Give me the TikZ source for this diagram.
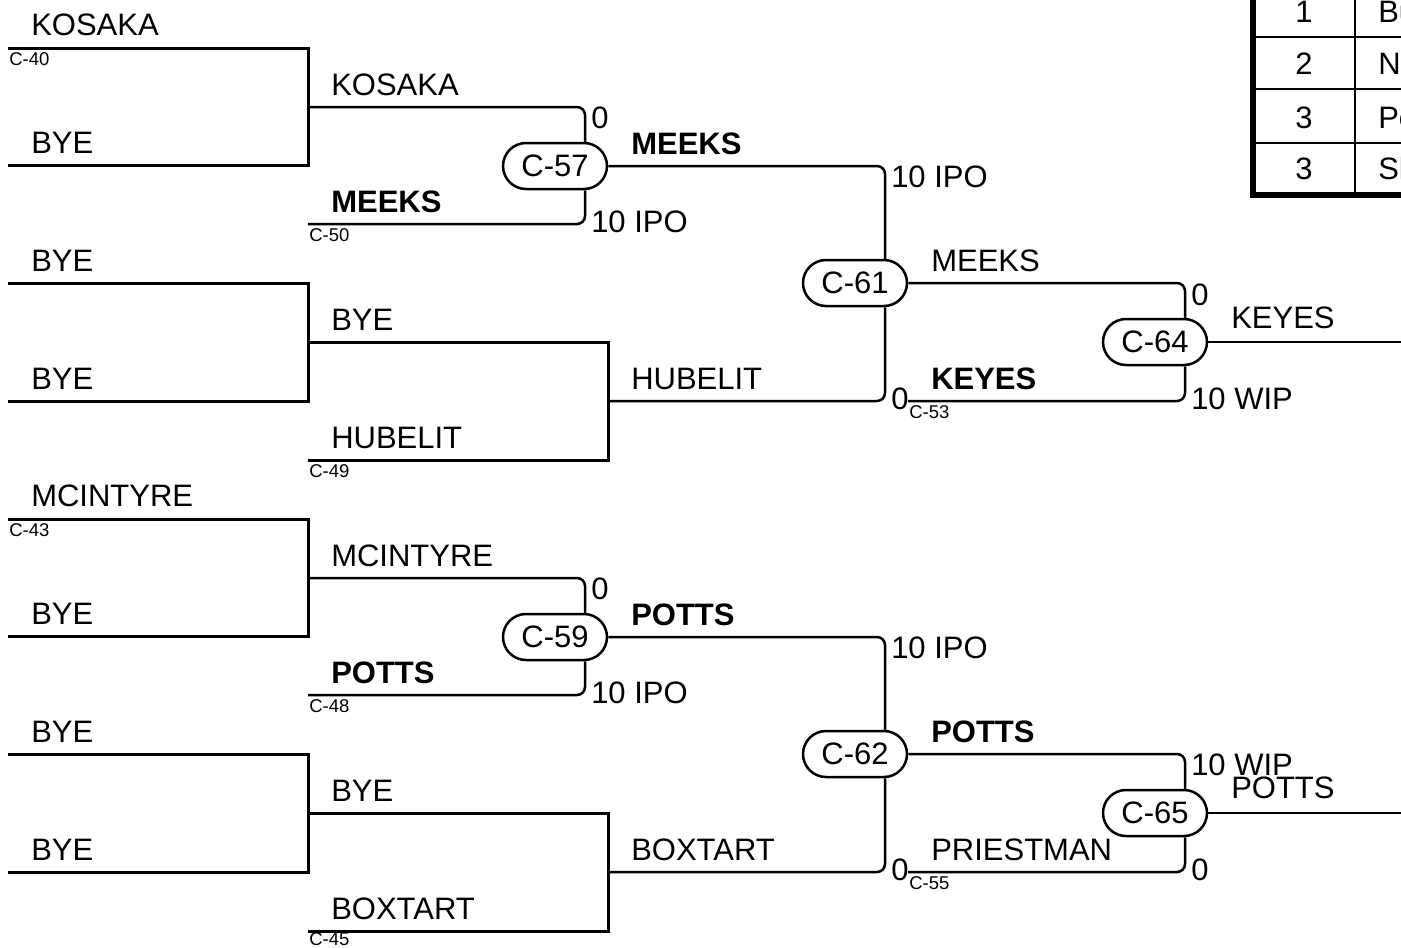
\documentclass[tikz,border=0pt]{standalone}
\usepackage{fontspec}
\setmainfont{Liberation Sans}
\usetikzlibrary{positioning,shapes.misc}
\tikzset{
every path/.style={line width=2.5pt}
, every node/.style={font=\fontsize{31}{36}\selectfont,inner sep=0pt}
, player/.style={anchor=base west}
, winner/.style={anchor=base west,font=\fontsize{31}{36}\selectfont\bfseries}
, score/.style={anchor=base west}
, gameref/.style={anchor=base west,font=\fontsize{18.5}{20}\selectfont}
, gamenode/.style={draw,rounded rectangle,minimum width=104,minimum height=46,line width=2.5pt,fill=white}
, slot/.style={line width=3pt}
, turn/.style={rounded corners=8pt}
, tableline/.style={line width=2pt}
, tableframe/.style={line width=6pt}}
\def\sep{30pt}

\begin{document}
\begin{tikzpicture}[x=1pt,y=-1pt]
\useasboundingbox (0,0) rectangle (1401,948);
% match boxes
\node[gamenode] at (555,166) (c57) {C-57};
\node[gamenode] at (855,283) (c61) {C-61};
\node[gamenode] at (1155,342) (c64) {C-64};
\node[gamenode] at (555,637) (c59) {C-59};
\node[gamenode] at (855,754) (c62) {C-62};
\node[gamenode] at (1155,813) (c65) {C-65};
% top half
\coordinate (s40) at (8,48);
\coordinate (s40e) at (308,48);
\coordinate (sa2) at (8,165);
\coordinate (sa2e) at (308,165);
\coordinate (ja) at (308,107);
\coordinate (s50) at (308,224);
\draw [slot] (s40) -- (s40e) -- (sa2e) -- (sa2);
\draw [turn] (ja) -| ([xshift=\sep]c57.north);
\draw [turn] (s50) -| ([xshift=\sep]c57.south);
\draw [turn] (c57.east) -| ([xshift=\sep]c61.north);
\coordinate (sb1) at (8,283);
\coordinate (sb1e) at (308,283);
\coordinate (sb2) at (8,401);
\coordinate (sb2e) at (308,401);
\coordinate (sb3) at (308,342);
\coordinate (sb3e) at (608,342);
\coordinate (s49) at (308,460);
\coordinate (s49e) at (608,460);
\coordinate (jb) at (608,401);
\coordinate (s53) at (908,401);
\coordinate (fin1) at (1401,342);
\draw [slot] (sb1) -- (sb1e) -- (sb2e) -- (sb2);
\draw [slot] (sb3) -- (sb3e) -- (s49e) -- (s49);
\draw [turn] (jb) -| ([xshift=\sep]c61.south);
\draw [turn] (s53) -| ([xshift=\sep]c64.south);
\draw [turn] (c61.east) -| ([xshift=\sep]c64.north);
\draw (c64.east) -- (fin1);
% bottom half
\coordinate (s43) at (8,519);
\coordinate (s43e) at (308,519);
\coordinate (sc2) at (8,636);
\coordinate (sc2e) at (308,636);
\coordinate (jc) at (308,578);
\coordinate (s48) at (308,695);
\draw [slot] (s43) -- (s43e) -- (sc2e) -- (sc2);
\draw [turn] (jc) -| ([xshift=\sep]c59.north);
\draw [turn] (s48) -| ([xshift=\sep]c59.south);
\draw [turn] (c59.east) -| ([xshift=\sep]c62.north);
\coordinate (sd1) at (8,754);
\coordinate (sd1e) at (308,754);
\coordinate (sd2) at (8,872);
\coordinate (sd2e) at (308,872);
\coordinate (sd3) at (308,813);
\coordinate (sd3e) at (608,813);
\coordinate (s45) at (308,931);
\coordinate (s45e) at (608,931);
\coordinate (jd) at (608,872);
\coordinate (s55) at (908,872);
\coordinate (fin2) at (1401,813);
\draw [slot] (sd1) -- (sd1e) -- (sd2e) -- (sd2);
\draw [slot] (sd3) -- (sd3e) -- (s45e) -- (s45);
\draw [turn] (jd) -| ([xshift=\sep]c62.south);
\draw [turn] (s55) -| ([xshift=\sep]c65.south);
\draw [turn] (c62.east) -| ([xshift=\sep]c65.north);
\draw (c65.east) -- (fin2);
% names, scores, game refs (top)
\node[player] at (30,35) (p1) {KOSAKA};
\node[player] at (30,153) (p2) {BYE};
\node[gameref] at (8,65) (g40) {C-40};
\node[player] at (330,95) (p3) {KOSAKA};
\node[winner] at (330,212) (p4) {MEEKS};
\node[gameref] at (308,241) (g50) {C-50};
\node[score] at (590,128) (sc1) {0};
\node[score] at (590,232) (sc2) {10 IPO};
\node[winner] at (630,154) (p5) {MEEKS};
\node[score] at (890,187) (sc3) {10 IPO};
\node[player] at (30,271) (p6) {BYE};
\node[player] at (30,389) (p7) {BYE};
\node[player] at (330,330) (p8) {BYE};
\node[player] at (330,448) (p9) {HUBELIT};
\node[gameref] at (308,477) (g49) {C-49};
\node[player] at (630,389) (p10) {HUBELIT};
\node[score] at (890,409) (sc4) {0};
\node[gameref] at (908,418) (g53) {C-53};
\node[player] at (930,271) (p11) {MEEKS};
\node[winner] at (930,389) (p12) {KEYES};
\node[score] at (1190,305) (sc5) {0};
\node[score] at (1190,409) (sc6) {10 WIP};
\node[player] at (1230,328) (p13) {KEYES};
% names, scores, game refs (bottom)
\node[player] at (30,506) (p14) {MCINTYRE};
\node[player] at (30,624) (p15) {BYE};
\node[gameref] at (8,536) (g43) {C-43};
\node[player] at (330,566) (p16) {MCINTYRE};
\node[winner] at (330,683) (p17) {POTTS};
\node[gameref] at (308,712) (g48) {C-48};
\node[score] at (590,599) (sc7) {0};
\node[score] at (590,703) (sc8) {10 IPO};
\node[winner] at (630,625) (p18) {POTTS};
\node[score] at (890,658) (sc9) {10 IPO};
\node[player] at (30,742) (p19) {BYE};
\node[player] at (30,860) (p20) {BYE};
\node[player] at (330,801) (p21) {BYE};
\node[player] at (330,919) (p22) {BOXTART};
\node[gameref] at (308,945) (g45) {C-45};
\node[player] at (630,860) (p23) {BOXTART};
\node[score] at (890,880) (sc10) {0};
\node[gameref] at (908,889) (g55) {C-55};
\node[winner] at (930,742) (p24) {POTTS};
\node[player] at (930,860) (p25) {PRIESTMAN};
\node[score] at (1190,775) (sc11) {10 WIP};
\node[score] at (1190,880) (sc12) {0};
\node[player] at (1230,798) (p26) {POTTS};
% placings table
\draw [tableline] (1253,37) -- (1420,37);
\draw [tableline] (1253,89) -- (1420,89);
\draw [tableline] (1253,143) -- (1420,143);
\draw [tableline] (1355,-20) -- (1355,195);
\draw [tableframe] (1253,-20) -- (1253,195) -- (1420,195);
\node[anchor=base] at (1304,22) (r1) {1};
\node[anchor=base] at (1304,74) (r2) {2};
\node[anchor=base] at (1304,128) (r3) {3};
\node[anchor=base] at (1304,179) (r4) {3};
\node[player] at (1377,22) (t1) {Bu};
\node[player] at (1377,74) (t2) {Na};
\node[player] at (1377,128) (t3) {Po};
\node[player] at (1377,179) (t4) {Sh};
\end{tikzpicture}
\end{document}
